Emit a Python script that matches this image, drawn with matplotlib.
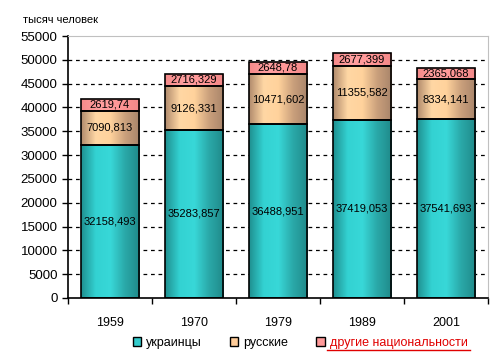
import numpy as np
import matplotlib.pyplot as plt
from matplotlib.colors import LinearSegmentedColormap
from matplotlib.patches import Patch
from matplotlib.lines import Line2D

plt.rcParams['font.family'] = ['Liberation Sans', 'DejaVu Sans']

years = ['1959', '1970', '1979', '1989', '2001']
ukr = [32158.493, 35283.857, 36488.951, 37419.053, 37541.693]
rus = [7090.813, 9126.331, 10471.602, 11355.582, 8334.141]
other = [2619.74, 2716.329, 2648.78, 2677.399, 2365.068]
ukr_lbl = ['32158,493', '35283,857', '36488,951', '37419,053', '37541,693']
rus_lbl = ['7090,813', '9126,331', '10471,602', '11355,582', '8334,141']
other_lbl = ['2619,74', '2716,329', '2648,78', '2677,399', '2365,068']
names = ['украинцы', 'русские', 'другие национальности']

fig = plt.figure(figsize=(4.99, 3.6), dpi=100)
ax = fig.add_axes([68/499, 62/360, 420/499, 262/360])

x = np.arange(len(years))
w = 0.70

cm_teal = LinearSegmentedColormap.from_list('t', ['#1f8f8f', '#33d2d2', '#38d8d8', '#2aa8a8', '#1f8a8a'])
cm_tan = LinearSegmentedColormap.from_list('r', ['#b08a6c', '#ffd7a4', '#ffd29c', '#caa07c', '#a8846a'])
cm_pink = LinearSegmentedColormap.from_list('p', ['#f58a8a', '#ffa0a0', '#ff9696', '#f28888'])
grad = np.linspace(0, 1, 256).reshape(1, -1)


def gbar(xs, h, b, cmap):
    bars = ax.bar(xs, h, w, bottom=b, color='none', edgecolor='black', linewidth=1.2, zorder=3)
    for r in bars:
        im = ax.imshow(grad, cmap=cmap, aspect='auto', zorder=2,
                       extent=[r.get_x(), r.get_x() + r.get_width(), r.get_y(), r.get_y() + r.get_height()])
        im.set_clip_path(r)
    return bars


b2 = np.array(ukr) + np.array(rus)
gbar(x, ukr, 0, cm_teal)
gbar(x, rus, ukr, cm_tan)
gbar(x, other, b2, cm_pink)

for i in range(len(years)):
    ax.text(x[i], ukr[i] / 2, ukr_lbl[i], ha='center', va='center', fontsize=8, zorder=4)
    ax.text(x[i], ukr[i] + rus[i] / 2, rus_lbl[i], ha='center', va='center', fontsize=8, zorder=4)
    ax.text(x[i], b2[i] + other[i] / 2, other_lbl[i], ha='center', va='center', fontsize=8, zorder=4)

ax.set_xlim(-0.5, 4.5)
ax.set_ylim(0, 55000)
ax.set_yticks(np.arange(0, 55001, 5000))
ax.tick_params(axis='y', labelsize=9.5, direction='out', length=4, width=1)
for g in range(5000, 55000, 5000):
    ax.axhline(g, color='black', linestyle=(0, (3, 3)), linewidth=0.9, zorder=1)

ax.set_xticks(x)
ax.set_xticklabels(years, fontsize=9)
ax.set_xticks(np.arange(-0.5, 4.6, 1), minor=True)
ax.tick_params(axis='x', which='major', length=0, pad=14)
ax.tick_params(axis='x', which='minor', length=4, width=1, direction='out')

for s in ['top', 'right']:
    ax.spines[s].set_color('#c0c0c0')
for s in ['left', 'bottom']:
    ax.spines[s].set_color('black')
    ax.spines[s].set_linewidth(1.2)

fig.text(23/499, 1 - 20/360, 'тысяч человек', fontsize=8, va='center')

handles = [Patch(facecolor='#33cccc', edgecolor='black'),
           Patch(facecolor='#ffcc99', edgecolor='black'),
           Patch(facecolor='#ff9999', edgecolor='black')]
leg = fig.legend(handles, names, loc='center', bbox_to_anchor=(300/499, 1 - 343/360), ncol=3,
                 frameon=False, fontsize=9, handlelength=0.7, handleheight=0.7,
                 handletextpad=0.4, columnspacing=2.2)
t3 = leg.get_texts()[2]
t3.set_color('#e00000')

fig.canvas.draw()
bb = t3.get_window_extent()
y0 = bb.y0 - 1
fig.add_artist(Line2D([(bb.x0 - 3) / fig.bbox.width, (bb.x1 + 3) / fig.bbox.width],
                      [y0 / fig.bbox.height] * 2, color='#e00000', linewidth=1))

fig.savefig('out.png', dpi=100)
